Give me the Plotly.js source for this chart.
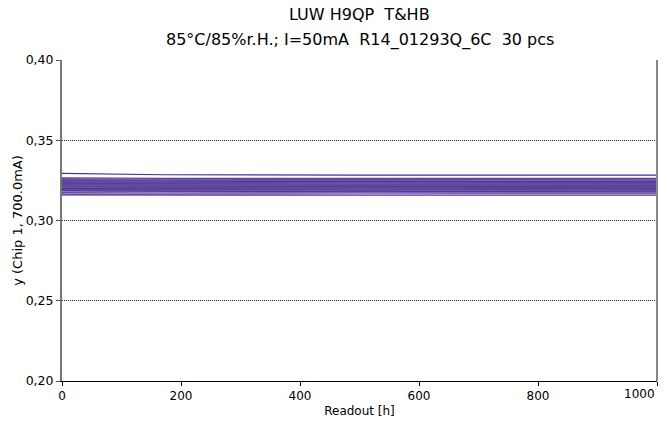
<!DOCTYPE html>
<html><head><meta charset="utf-8">
<script src="https://cdn.plot.ly/plotly-3.0.1.min.js"></script>
<style>body{margin:0;background:#fff}#c{width:669px;height:424px}</style>
</head><body><div id="c"></div>
<script>
const titleLines = ['LUW H9QP  T&HB', '85°C/85%r.H.; I=50mA  R14_01293Q_6C  30 pcs'];
const readouts = [0, 168, 500, 1000];
const xTicks = [0, 200, 400, 600, 800, 1000];
const xTickText = ['0', '200', '400', '600', '800', '1000'];
const yTicks = [0.20, 0.25, 0.30, 0.35, 0.40];
const yTickText = ['0,20', '0,25', '0,30', '0,35', '0,40'];
const y01 = [0.3293, 0.3285, 0.3283, 0.3283];
const y02 = [0.3266, 0.3262, 0.3262, 0.3263];
const y03 = [0.3261, 0.3257, 0.3256, 0.3257];
const y04 = [0.3255, 0.3251, 0.3250, 0.3252];
const y05 = [0.3251, 0.3248, 0.3246, 0.3248];
const y06 = [0.3247, 0.3244, 0.3242, 0.3244];
const y07 = [0.3243, 0.3240, 0.3239, 0.3240];
const y08 = [0.3239, 0.3236, 0.3235, 0.3237];
const y09 = [0.3236, 0.3233, 0.3232, 0.3234];
const y10 = [0.3232, 0.3230, 0.3229, 0.3230];
const y11 = [0.3229, 0.3227, 0.3226, 0.3227];
const y12 = [0.3226, 0.3224, 0.3222, 0.3224];
const y13 = [0.3223, 0.3221, 0.3219, 0.3221];
const y14 = [0.3220, 0.3218, 0.3216, 0.3218];
const y15 = [0.3217, 0.3215, 0.3213, 0.3215];
const y16 = [0.3214, 0.3212, 0.3210, 0.3212];
const y17 = [0.3211, 0.3209, 0.3207, 0.3209];
const y18 = [0.3208, 0.3206, 0.3204, 0.3206];
const y19 = [0.3205, 0.3203, 0.3201, 0.3203];
const y20 = [0.3202, 0.3200, 0.3199, 0.3200];
const y21 = [0.3199, 0.3197, 0.3196, 0.3197];
const y22 = [0.3196, 0.3194, 0.3193, 0.3195];
const y23 = [0.3193, 0.3191, 0.3190, 0.3192];
const y24 = [0.3190, 0.3188, 0.3187, 0.3189];
const y25 = [0.3187, 0.3185, 0.3184, 0.3186];
const y26 = [0.3184, 0.3182, 0.3181, 0.3183];
const y27 = [0.3175, 0.3179, 0.3178, 0.3178];
const y28 = [0.3170, 0.3172, 0.3173, 0.3173];
const y29 = [0.3162, 0.3164, 0.3165, 0.3166];
const y30 = [0.3158, 0.3157, 0.3156, 0.3157];
const series = [y01,y02,y03,y04,y05,y06,y07,y08,y09,y10,y11,y12,y13,y14,y15,y16,y17,y18,y19,y20,y21,y22,y23,y24,y25,y26,y27,y28,y29,y30];
const palette = ['#4b2f8f','#5a3f9a','#6a55a8','#533b94','#7a66b2'];

const traces = series.map((ys, i) => ({
  x: readouts, y: ys, type: 'scatter', mode: 'lines',
  line: {color: palette[i % palette.length], width: 1.2},
  showlegend: false, hoverinfo: 'skip'
}));

const font = 'Tahoma, "DejaVu Sans", Verdana, sans-serif';
const layout = {
  width: 669, height: 424,
  margin: {l: 62, r: 12, t: 60, b: 43},
  paper_bgcolor: '#fff', plot_bgcolor: '#fff',
  font: {family: font, size: 12, color: '#000'},
  xaxis: {range: [0, 1000], tickvals: xTicks,
    ticktext: xTickText.map((t, i) => i === xTickText.length - 1 ? '' : t),
    ticks: 'outside', ticklen: 4, tickcolor: '#000',
    showgrid: false, zeroline: false,
    showline: true, linecolor: '#000', linewidth: 1, mirror: false,
    title: {text: 'Readout [h]', font: {size: 12}, standoff: 4},
    tickfont: {size: 12}},
  yaxis: {range: [0.20, 0.40], tickvals: yTicks, ticktext: yTickText,
    ticks: 'outside', ticklen: 4, tickcolor: '#555',
    showgrid: true, gridcolor: '#222', griddash: '1px,1px', gridwidth: 1,
    zeroline: false, showline: true, linecolor: '#777', linewidth: 2,
    title: {text: 'y (Chip 1, 700.0mA)', font: {size: 13}, standoff: 0},
    tickfont: {size: 12.5}},
  shapes: [{type: 'line', xref: 'paper', yref: 'paper', x0: 1, x1: 1, y0: 0, y1: 1,
    line: {color: '#888', width: 2}}],
  annotations: [
    {text: titleLines[0], xref: 'paper', yref: 'paper', x: 0.5, y: 1, yshift: 46,
     xanchor: 'center', yanchor: 'middle', showarrow: false, font: {family: font, size: 16}},
    {text: titleLines[1], xref: 'paper', yref: 'paper', x: 0.5, y: 1, yshift: 20,
     xanchor: 'center', yanchor: 'middle', showarrow: false, font: {family: font, size: 16}},
    {text: xTickText[xTickText.length - 1], xref: 'x', yref: 'paper', x: xTicks[xTicks.length - 1], y: 0,
     yshift: -13, xanchor: 'right', yanchor: 'middle', showarrow: false, font: {family: font, size: 12}}
  ]
};
Plotly.newPlot('c', traces, layout, {displayModeBar: false, staticPlot: true});
</script></body></html>
